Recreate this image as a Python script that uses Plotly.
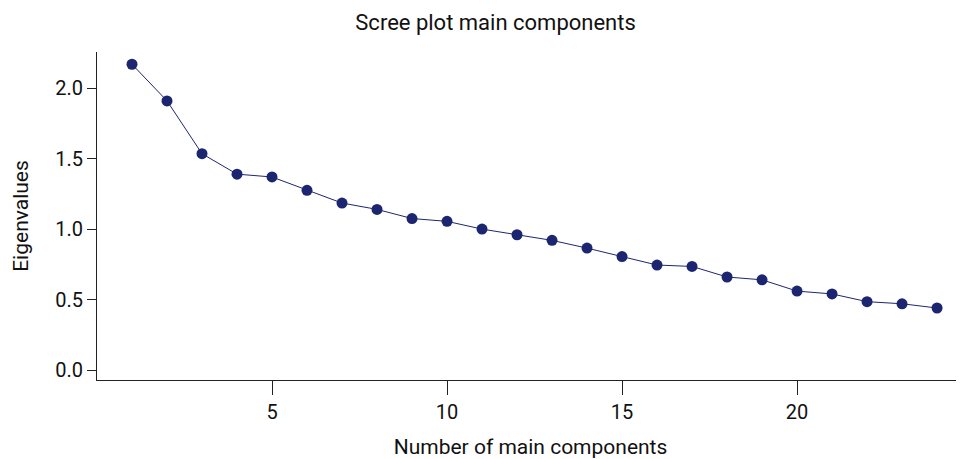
import plotly.graph_objects as go

components = list(range(1, 25))
eigenvalues = [2.17, 1.91, 1.535, 1.39, 1.37, 1.275, 1.185, 1.14, 1.075, 1.055,
               1.0, 0.96, 0.92, 0.865, 0.805, 0.745, 0.735, 0.66, 0.64, 0.56,
               0.54, 0.485, 0.47, 0.44]
x_ticks = [5, 10, 15, 20]
y_ticks = [0.0, 0.5, 1.0, 1.5, 2.0]

color = "#1c2670"
font = "Roboto"

fig = go.Figure()
fig.add_trace(go.Scatter(
    x=components, y=eigenvalues, mode="lines+markers",
    line=dict(color=color, width=1),
    marker=dict(color=color, size=11),
    showlegend=False,
))

# page body has an 8px default margin; figure is sized to fill the rest
fig.update_layout(
    width=956, height=451,
    margin=dict(l=89, r=0, t=44, b=73),
    plot_bgcolor="white", paper_bgcolor="white",
    font=dict(family=font, size=20, color="#111"),
    title=dict(text="Scree plot main components", x=0.51, xref="container",
               xanchor="center", y=1 - 14 / 451, yanchor="middle",
               font=dict(family=font, size=22, color="#111")),
    xaxis=dict(range=[0, 24.77], tickvals=x_ticks, ticks="outside", ticklen=14,
               tickwidth=1, tickcolor="#222", showline=True, linecolor="#222",
               linewidth=1, showgrid=False, zeroline=False,
               title=dict(text="Number of main components", standoff=20,
                          font=dict(size=21))),
    yaxis=dict(range=[-0.071, 2.257], tickvals=y_ticks, tickformat=".1f",
               ticks="outside", ticklen=9, tickwidth=1, tickcolor="#222",
               showline=True, linecolor="#222", linewidth=1, showgrid=False,
               zeroline=False,
               title=dict(text="Eigenvalues", standoff=20, font=dict(size=21))),
)

fig.write_html("out.html")
